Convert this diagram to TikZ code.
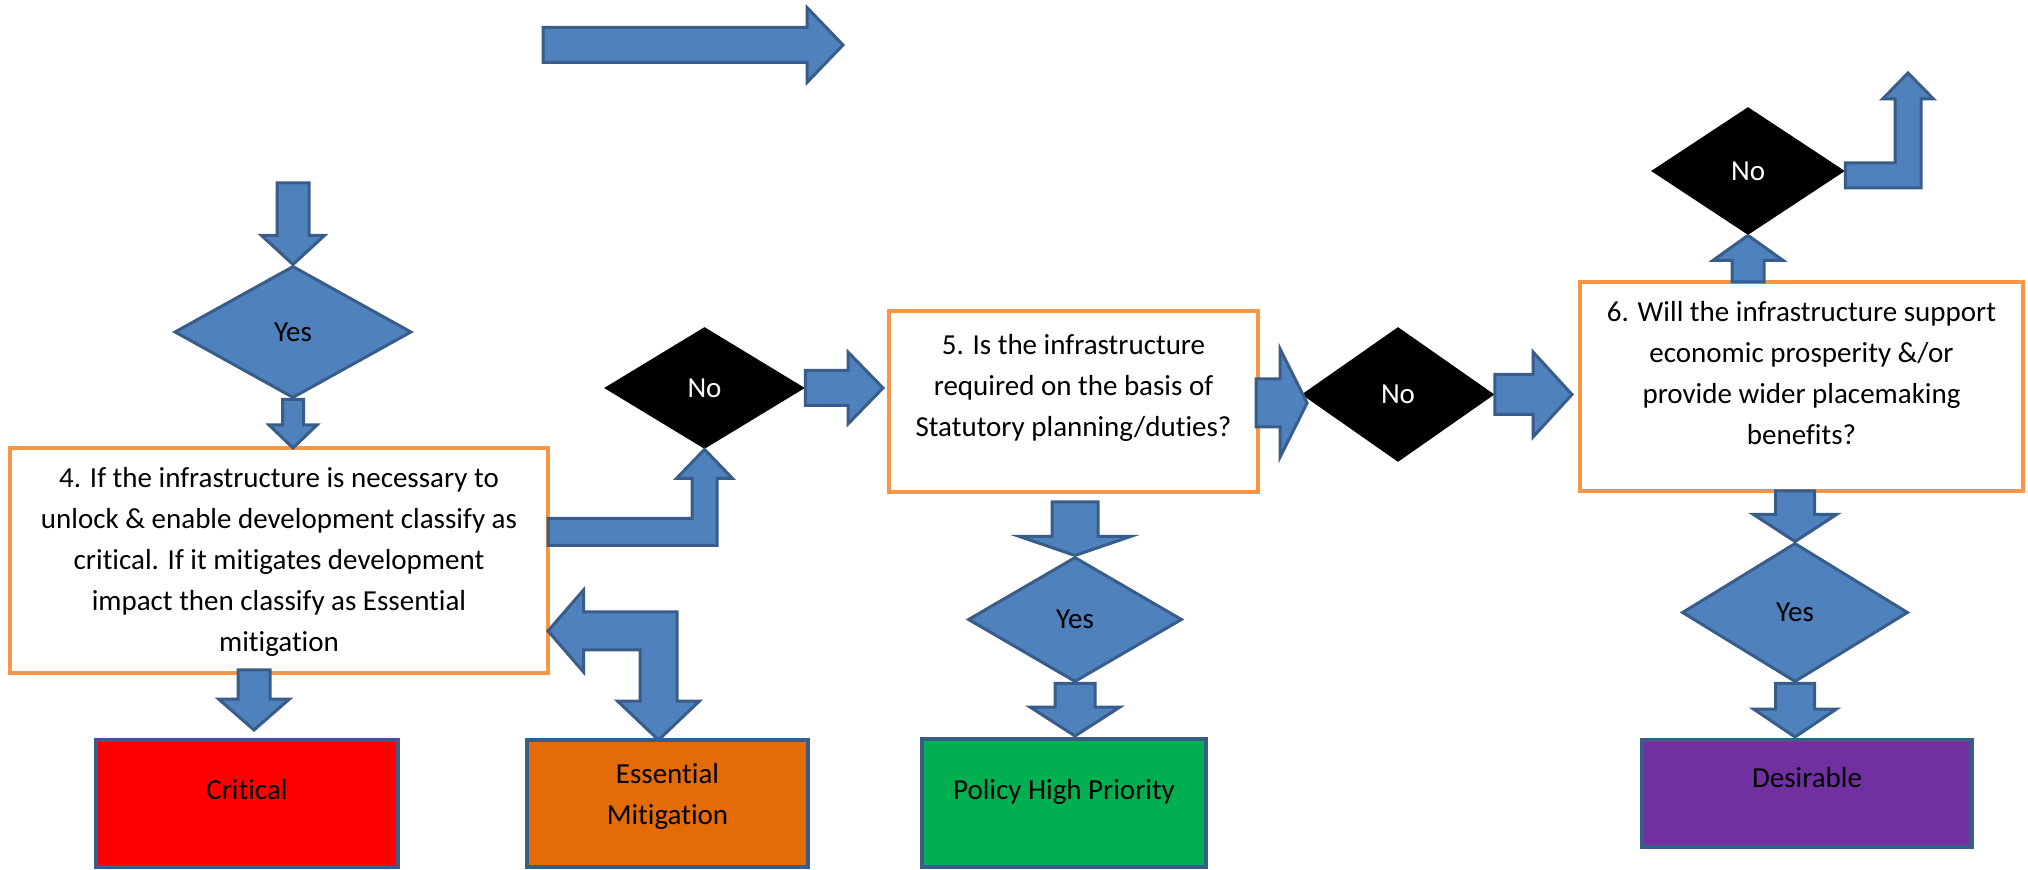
\documentclass[tikz,border=0pt]{standalone}
\usepackage{fontspec}
\setmainfont{Carlito}[Ligatures=NoCommon]
\usetikzlibrary{shapes.geometric,calc}
\definecolor{arrowfill}{HTML}{4F81BD}
\definecolor{arrowline}{HTML}{385D8A}
\definecolor{qline}{HTML}{F79646}
\definecolor{critfill}{HTML}{FF0000}
\definecolor{essfill}{HTML}{E36C09}
\definecolor{polfill}{HTML}{00B050}
\definecolor{desfill}{HTML}{7030A0}
% block arrow: from, to, half shaft, half head, head length
\newcommand{\blockarrow}[5]{%
	\coordinate (ba-s) at (#1);
	\coordinate (ba-t) at (#2);
	\coordinate (ba-h) at ($(ba-t)!#5!(ba-s)$);
	\draw[barrow] ($(ba-s)!#3!90:(ba-t)$) -- ($(ba-h)!#3!90:(ba-t)$) -- ($(ba-h)!#4!90:(ba-t)$) -- (ba-t)
		-- ($(ba-h)!#4!-90:(ba-t)$) -- ($(ba-h)!#3!-90:(ba-t)$) -- ($(ba-s)!#3!-90:(ba-t)$) -- cycle;}

\begin{document}
\begin{tikzpicture}[x=0.5pt,y=-0.5pt,font=\fontsize{14.5pt}{20.5pt}\selectfont,
	qbox/.style={draw=qline,line width=2pt,fill=white,inner sep=0pt,outer sep=0pt,align=center},
	rbox/.style={draw=arrowline,line width=2pt,inner sep=0pt,outer sep=0pt,align=center},
	yesdia/.style={diamond,draw=arrowline,line width=1.5pt,fill=arrowfill,inner sep=0pt},
	nodia/.style={diamond,fill=black,text=white,inner sep=0pt},
	barrow/.style={draw=arrowline,line width=1.5pt,fill=arrowfill,line join=miter}]
	\fill[white] (0,0) rectangle (2028,870);
	\useasboundingbox (0,0) rectangle (2028,870);
	
	% questions
	\node[qbox,minimum width=269pt,text height=102pt,text depth=10.5pt] (box4) at (279,560.5)
		{4. If the infrastructure is necessary to\\unlock \& enable development classify as\\critical. If it mitigates development\\impact then classify as Essential\\mitigation};
	\node[qbox,minimum width=184.5pt,text height=63pt,text depth=27.5pt] (box5) at (1073.5,401.5)
		{5. Is the infrastructure\\required on the basis of\\Statutory planning/duties?};
	\node[qbox,minimum width=221.5pt,text height=81.5pt,text depth=23pt] (box6) at (1801.5,386.5)
		{6. Will the infrastructure support\\economic prosperity \&/or\\provide wider placemaking\\benefits?};
	
	% results
	\node[rbox,fill=critfill,minimum width=151pt,text height=29.5pt,text depth=34pt] (crit) at (247,803.5) {Critical};
	\node[rbox,fill=essfill,minimum width=140.5pt,text height=42pt,text depth=21.5pt] (ess) at (667.5,803.5) {Essential\\Mitigation};
	\node[rbox,fill=polfill,minimum width=142pt,text height=30pt,text depth=34pt] (pol) at (1064,803) {Policy High Priority};
	\node[rbox,fill=desfill,minimum width=165pt,text height=23.5pt,text depth=30pt] (des) at (1807,793.5) {Desirable};
	
	% decisions
	\node[yesdia,minimum width=118.5pt,minimum height=66pt] (yes1) at (293,332) {Yes};
	\node[nodia,minimum width=100.5pt,minimum height=61pt] (no1) at (704.5,388) {No};
	\node[nodia,minimum width=96.5pt,minimum height=67.5pt] (no2) at (1398,394.5) {No};
	\node[yesdia,minimum width=107pt,minimum height=62.5pt] (yes2) at (1075,619.5) {Yes};
	\node[nodia,minimum width=97pt,minimum height=64pt] (no3) at (1748,171) {No};
	\node[yesdia,minimum width=113pt,minimum height=69.5pt] (yes3) at (1795,612.5) {Yes};
	
	% arrows
	\coordinate (topA) at (543,45);
	\coordinate (topB) at (843,45);
	\coordinate (in1) at (293,183);
	\blockarrow{topA}{topB}{8.75pt}{18.75pt}{18pt}
	\blockarrow{in1}{yes1.north}{8pt}{15.75pt}{14.5pt}
	\blockarrow{yes1.south}{yes1.south |- box4.north}{5.25pt}{12pt}{11.5pt}
	\blockarrow{$(box4.south)+(-25,-3)$}{$(box4.south)+(-25,57)$}{8pt}{17.75pt}{15.5pt}
	\blockarrow{no1.east}{$(no1.east -| box5.west)+(-6,0)$}{8.75pt}{18pt}{17.5pt}
	\blockarrow{$(box5.east)+(-2,1.5)$}{$(box5.east -| no2.west)+(6,1.5)$}{12pt}{27pt}{13.5pt}
	\blockarrow{no2.east}{$(no2.east -| box6.west)+(-8,0)$}{10pt}{21.25pt}{19.5pt}
	\blockarrow{$(yes2.north |- box5.south)+(0,10)$}{yes2.north}{11.5pt}{27.75pt}{9.5pt}
	\blockarrow{yes2.south}{$(yes2.south |- pol.north)+(0,-3)$}{10pt}{22.5pt}{14.5pt}
	\blockarrow{no3.south |- box6.north}{no3.south}{8pt}{17.5pt}{12.5pt}
	\blockarrow{yes3.north |- box6.south}{yes3.north}{9.75pt}{20.75pt}{13.5pt}
	\blockarrow{yes3.south}{$(yes3.south |- des.north)+(0,-3)$}{9.75pt}{20.75pt}{14pt}
	
	% bent arrows
	\begin{scope}[shift={(no1.south)}]
		\draw[barrow] (box4.east |- 0,69) -- (-12.5,69) -- (-12.5,29) -- (-28,29) -- (0,0) -- (28,29)
			-- (12.5,29) -- (12.5,96) -- (box4.east |- 0,96) -- cycle;
	\end{scope}
	\coordinate (esstip) at ($(ess.north)+(-9,0)$);
	\begin{scope}[shift={(esstip)}]
		\draw[barrow] (0,0) -- (-41,-39) -- (-18.5,-39) -- (-18.5,-90) -- (-75,-90) -- (-75,-68)
			-- (box4.east |- 0,-109) -- (-75,-150) -- (-75,-128) -- (18.5,-128) -- (18.5,-39) -- (41,-39) -- cycle;
	\end{scope}
	\coordinate (out3) at (1908,73);
	\begin{scope}[shift={(out3)}]
		\draw[barrow] (no3.east |- 0,90) -- (-13,90) -- (-13,26) -- (-25.5,26) -- (0,0) -- (25.5,26)
			-- (13,26) -- (13,115) -- (no3.east |- 0,115) -- cycle;
	\end{scope}
	
\end{tikzpicture}
\end{document}
